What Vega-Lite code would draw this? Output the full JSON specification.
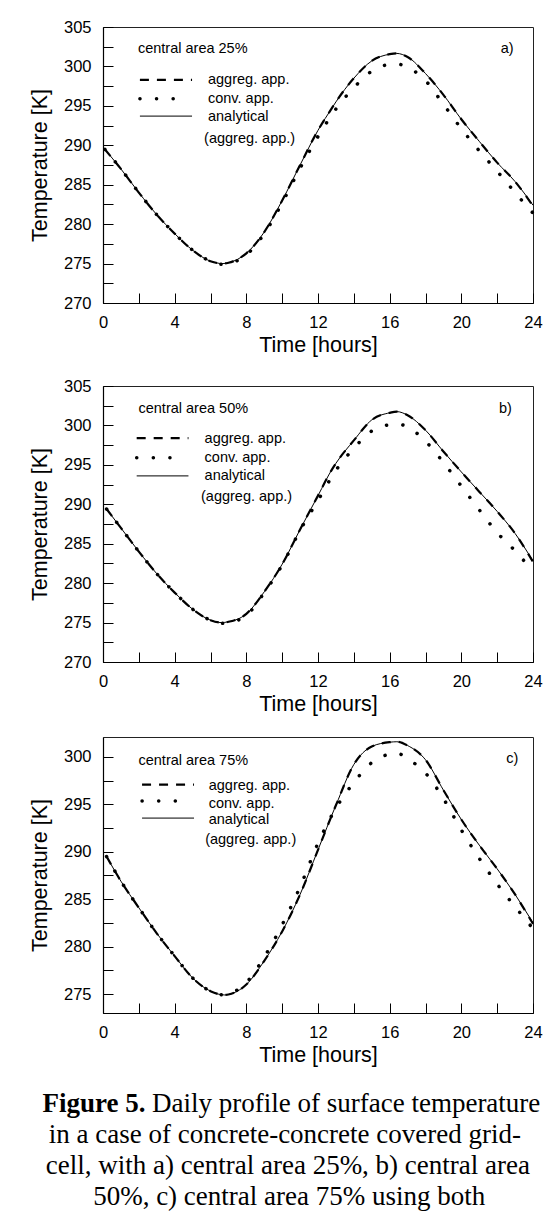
{
  "$schema": "https://vega.github.io/schema/vega-lite/v6.json",
  "padding": {"left": 28, "top": 18, "right": 5, "bottom": 5},
  "spacing": 20,
  "background": "white",
  "config": {
    "font": "Liberation Sans",
    "view": {"stroke": "#222", "strokeWidth": 1},
    "axis": {"grid": false, "domainColor": "black", "domainWidth": 1.2, "tickColor": "black", "tickWidth": 1, "tickSize": -10, "labelColor": "black", "titleColor": "black", "labelFontSize": 16.5, "titleFontSize": 21.5, "titleFontWeight": "normal", "labelFont": "Liberation Sans", "titleFont": "Liberation Sans", "labelFlush": false, "labelOverlap": false},
    "axisX": {"labelPadding": 21, "titlePadding": 4},
    "axisY": {"labelPadding": 22, "titlePadding": 12},
    "text": {"font": "Liberation Sans", "fontSize": 14.5, "align": "left", "baseline": "alphabetic", "color": "black"}
  },
  "datasets": {
    "cur": [
      {"p":"a","s":"an","g":"c","t":0.1,"v":289.5},{"p":"a","s":"an","g":"c","t":1,"v":287.0},{"p":"a","s":"an","g":"c","t":2,"v":284.0},{"p":"a","s":"an","g":"c","t":3,"v":281.2},{"p":"a","s":"an","g":"c","t":4,"v":278.8},{"p":"a","s":"an","g":"c","t":5,"v":276.7},{"p":"a","s":"an","g":"c","t":6,"v":275.3},{"p":"a","s":"an","g":"c","t":6.7,"v":275.0},{"p":"a","s":"an","g":"c","t":7,"v":275.1},{"p":"a","s":"an","g":"c","t":8,"v":276.3},{"p":"a","s":"an","g":"c","t":9,"v":279.0},{"p":"a","s":"an","g":"c","t":10,"v":283.0},{"p":"a","s":"an","g":"c","t":11,"v":287.5},{"p":"a","s":"an","g":"c","t":12,"v":291.9},{"p":"a","s":"an","g":"c","t":12.8,"v":294.8},{"p":"a","s":"an","g":"c","t":13,"v":295.5},{"p":"a","s":"an","g":"c","t":14,"v":298.5},{"p":"a","s":"an","g":"c","t":15,"v":300.7},{"p":"a","s":"an","g":"c","t":16,"v":301.55},{"p":"a","s":"an","g":"c","t":16.4,"v":301.65},{"p":"a","s":"an","g":"c","t":17,"v":301.2},{"p":"a","s":"an","g":"c","t":18,"v":299.1},{"p":"a","s":"an","g":"c","t":19,"v":296.4},{"p":"a","s":"an","g":"c","t":20,"v":293.3},{"p":"a","s":"an","g":"c","t":21,"v":290.5},{"p":"a","s":"an","g":"c","t":22,"v":287.8},{"p":"a","s":"an","g":"c","t":23,"v":285.4},{"p":"a","s":"an","g":"c","t":24,"v":282.4},
      {"p":"a","s":"ag","g":"c","t":0.1,"v":289.5},{"p":"a","s":"ag","g":"c","t":1,"v":287.0},{"p":"a","s":"ag","g":"c","t":2,"v":284.0},{"p":"a","s":"ag","g":"c","t":3,"v":281.2},{"p":"a","s":"ag","g":"c","t":4,"v":278.8},{"p":"a","s":"ag","g":"c","t":5,"v":276.7},{"p":"a","s":"ag","g":"c","t":6,"v":275.3},{"p":"a","s":"ag","g":"c","t":6.7,"v":275.0},{"p":"a","s":"ag","g":"c","t":7,"v":275.1},{"p":"a","s":"ag","g":"c","t":8,"v":276.3},{"p":"a","s":"ag","g":"c","t":9,"v":279.0},{"p":"a","s":"ag","g":"c","t":10,"v":283.0},{"p":"a","s":"ag","g":"c","t":11,"v":287.5},{"p":"a","s":"ag","g":"c","t":12,"v":291.9},{"p":"a","s":"ag","g":"c","t":12.8,"v":294.8},{"p":"a","s":"ag","g":"c","t":13,"v":295.5},{"p":"a","s":"ag","g":"c","t":14,"v":298.5},{"p":"a","s":"ag","g":"c","t":15,"v":300.7},{"p":"a","s":"ag","g":"c","t":16,"v":301.55},{"p":"a","s":"ag","g":"c","t":16.4,"v":301.65},{"p":"a","s":"ag","g":"c","t":17,"v":301.2},{"p":"a","s":"ag","g":"c","t":18,"v":299.1},{"p":"a","s":"ag","g":"c","t":19,"v":296.4},{"p":"a","s":"ag","g":"c","t":20,"v":293.3},{"p":"a","s":"ag","g":"c","t":21,"v":290.5},{"p":"a","s":"ag","g":"c","t":22,"v":287.8},{"p":"a","s":"ag","g":"c","t":23,"v":285.4},{"p":"a","s":"ag","g":"c","t":24,"v":282.3},
      {"p":"a","s":"cv","g":"c","t":0.1,"v":289.5},{"p":"a","s":"cv","g":"c","t":1,"v":287.0},{"p":"a","s":"cv","g":"c","t":2,"v":284.0},{"p":"a","s":"cv","g":"c","t":3,"v":281.2},{"p":"a","s":"cv","g":"c","t":4,"v":278.8},{"p":"a","s":"cv","g":"c","t":5,"v":276.7},{"p":"a","s":"cv","g":"c","t":6,"v":275.3},{"p":"a","s":"cv","g":"c","t":6.7,"v":274.9},{"p":"a","s":"cv","g":"c","t":7,"v":275.0},{"p":"a","s":"cv","g":"c","t":8,"v":276.1},{"p":"a","s":"cv","g":"c","t":9,"v":278.8},{"p":"a","s":"cv","g":"c","t":10,"v":282.7},{"p":"a","s":"cv","g":"c","t":11,"v":287.1},{"p":"a","s":"cv","g":"c","t":12,"v":291.1},{"p":"a","s":"cv","g":"c","t":13,"v":294.6},{"p":"a","s":"cv","g":"c","t":14,"v":297.3},{"p":"a","s":"cv","g":"c","t":15,"v":299.4},{"p":"a","s":"cv","g":"c","t":16,"v":300.25},{"p":"a","s":"cv","g":"c","t":16.4,"v":300.3},{"p":"a","s":"cv","g":"c","t":17,"v":299.9},{"p":"a","s":"cv","g":"c","t":18,"v":298.2},{"p":"a","s":"cv","g":"c","t":19,"v":295.2},{"p":"a","s":"cv","g":"c","t":20,"v":292.1},{"p":"a","s":"cv","g":"c","t":21,"v":289.3},{"p":"a","s":"cv","g":"c","t":22,"v":286.7},{"p":"a","s":"cv","g":"c","t":23,"v":284.0},{"p":"a","s":"cv","g":"c","t":24,"v":281.4},
      {"p":"a","s":"ag","g":"leg","t":2.06,"v":298.3},{"p":"a","s":"ag","g":"leg","t":4.97,"v":298.3},
      {"p":"a","s":"cv","g":"leg","t":2.06,"v":295.9},{"p":"a","s":"cv","g":"leg","t":4.1,"v":295.9},
      {"p":"a","s":"an","g":"leg","t":2.06,"v":293.7},{"p":"a","s":"an","g":"leg","t":4.97,"v":293.7},

      {"p":"b","s":"an","g":"c","t":0.2,"v":289.4},{"p":"b","s":"an","g":"c","t":1,"v":287.0},{"p":"b","s":"an","g":"c","t":2,"v":284.0},{"p":"b","s":"an","g":"c","t":3,"v":281.2},{"p":"b","s":"an","g":"c","t":4,"v":278.8},{"p":"b","s":"an","g":"c","t":5,"v":276.7},{"p":"b","s":"an","g":"c","t":6,"v":275.3},{"p":"b","s":"an","g":"c","t":6.6,"v":275.0},{"p":"b","s":"an","g":"c","t":7,"v":275.1},{"p":"b","s":"an","g":"c","t":8,"v":276.1},{"p":"b","s":"an","g":"c","t":9,"v":278.9},{"p":"b","s":"an","g":"c","t":10,"v":282.4},{"p":"b","s":"an","g":"c","t":11,"v":286.8},{"p":"b","s":"an","g":"c","t":12,"v":291.1},{"p":"b","s":"an","g":"c","t":12.8,"v":294.5},{"p":"b","s":"an","g":"c","t":13,"v":295.2},{"p":"b","s":"an","g":"c","t":14,"v":298.1},{"p":"b","s":"an","g":"c","t":15,"v":300.7},{"p":"b","s":"an","g":"c","t":16,"v":301.6},{"p":"b","s":"an","g":"c","t":16.4,"v":301.75},{"p":"b","s":"an","g":"c","t":17,"v":301.3},{"p":"b","s":"an","g":"c","t":18,"v":299.4},{"p":"b","s":"an","g":"c","t":19,"v":296.7},{"p":"b","s":"an","g":"c","t":20,"v":294.1},{"p":"b","s":"an","g":"c","t":21,"v":291.6},{"p":"b","s":"an","g":"c","t":22,"v":289.1},{"p":"b","s":"an","g":"c","t":23,"v":286.3},{"p":"b","s":"an","g":"c","t":24,"v":282.8},
      {"p":"b","s":"ag","g":"c","t":0.2,"v":289.4},{"p":"b","s":"ag","g":"c","t":1,"v":287.0},{"p":"b","s":"ag","g":"c","t":2,"v":284.0},{"p":"b","s":"ag","g":"c","t":3,"v":281.2},{"p":"b","s":"ag","g":"c","t":4,"v":278.8},{"p":"b","s":"ag","g":"c","t":5,"v":276.7},{"p":"b","s":"ag","g":"c","t":6,"v":275.3},{"p":"b","s":"ag","g":"c","t":6.6,"v":275.0},{"p":"b","s":"ag","g":"c","t":7,"v":275.1},{"p":"b","s":"ag","g":"c","t":8,"v":276.1},{"p":"b","s":"ag","g":"c","t":9,"v":278.9},{"p":"b","s":"ag","g":"c","t":10,"v":282.4},{"p":"b","s":"ag","g":"c","t":11,"v":286.8},{"p":"b","s":"ag","g":"c","t":12,"v":291.1},{"p":"b","s":"ag","g":"c","t":12.8,"v":294.5},{"p":"b","s":"ag","g":"c","t":13,"v":295.2},{"p":"b","s":"ag","g":"c","t":14,"v":298.1},{"p":"b","s":"ag","g":"c","t":15,"v":300.7},{"p":"b","s":"ag","g":"c","t":16,"v":301.6},{"p":"b","s":"ag","g":"c","t":16.4,"v":301.75},{"p":"b","s":"ag","g":"c","t":17,"v":301.3},{"p":"b","s":"ag","g":"c","t":18,"v":299.4},{"p":"b","s":"ag","g":"c","t":19,"v":296.7},{"p":"b","s":"ag","g":"c","t":20,"v":294.1},{"p":"b","s":"ag","g":"c","t":21,"v":291.6},{"p":"b","s":"ag","g":"c","t":22,"v":289.1},{"p":"b","s":"ag","g":"c","t":23,"v":286.3},{"p":"b","s":"ag","g":"c","t":24,"v":282.7},
      {"p":"b","s":"cv","g":"c","t":0.2,"v":289.4},{"p":"b","s":"cv","g":"c","t":1,"v":287.0},{"p":"b","s":"cv","g":"c","t":2,"v":284.0},{"p":"b","s":"cv","g":"c","t":3,"v":281.2},{"p":"b","s":"cv","g":"c","t":4,"v":278.8},{"p":"b","s":"cv","g":"c","t":5,"v":276.7},{"p":"b","s":"cv","g":"c","t":6,"v":275.3},{"p":"b","s":"cv","g":"c","t":6.6,"v":274.9},{"p":"b","s":"cv","g":"c","t":7,"v":275.0},{"p":"b","s":"cv","g":"c","t":8,"v":275.9},{"p":"b","s":"cv","g":"c","t":9,"v":278.8},{"p":"b","s":"cv","g":"c","t":10,"v":282.3},{"p":"b","s":"cv","g":"c","t":11,"v":286.7},{"p":"b","s":"cv","g":"c","t":12,"v":290.5},{"p":"b","s":"cv","g":"c","t":13,"v":294.3},{"p":"b","s":"cv","g":"c","t":14,"v":297.1},{"p":"b","s":"cv","g":"c","t":15,"v":299.3},{"p":"b","s":"cv","g":"c","t":16,"v":300.1},{"p":"b","s":"cv","g":"c","t":16.4,"v":300.2},{"p":"b","s":"cv","g":"c","t":17,"v":299.8},{"p":"b","s":"cv","g":"c","t":18,"v":298.0},{"p":"b","s":"cv","g":"c","t":19,"v":295.3},{"p":"b","s":"cv","g":"c","t":20,"v":292.3},{"p":"b","s":"cv","g":"c","t":21,"v":289.3},{"p":"b","s":"cv","g":"c","t":22,"v":286.4},{"p":"b","s":"cv","g":"c","t":23,"v":284.1},{"p":"b","s":"cv","g":"c","t":24,"v":281.5},
      {"p":"b","s":"ag","g":"leg","t":1.88,"v":298.4},{"p":"b","s":"ag","g":"leg","t":4.77,"v":298.4},
      {"p":"b","s":"cv","g":"leg","t":1.88,"v":295.9},{"p":"b","s":"cv","g":"leg","t":3.95,"v":295.9},
      {"p":"b","s":"an","g":"leg","t":1.88,"v":293.6},{"p":"b","s":"an","g":"leg","t":4.77,"v":293.6},

      {"p":"c","s":"an","g":"c","t":0.2,"v":289.5},{"p":"c","s":"an","g":"c","t":1,"v":286.9},{"p":"c","s":"an","g":"c","t":2,"v":284.1},{"p":"c","s":"an","g":"c","t":3,"v":281.4},{"p":"c","s":"an","g":"c","t":4,"v":279.0},{"p":"c","s":"an","g":"c","t":5,"v":276.7},{"p":"c","s":"an","g":"c","t":6,"v":275.3},{"p":"c","s":"an","g":"c","t":6.8,"v":274.9},{"p":"c","s":"an","g":"c","t":7,"v":274.95},{"p":"c","s":"an","g":"c","t":8,"v":276.0},{"p":"c","s":"an","g":"c","t":9,"v":278.5},{"p":"c","s":"an","g":"c","t":10,"v":281.6},{"p":"c","s":"an","g":"c","t":11,"v":285.5},{"p":"c","s":"an","g":"c","t":12,"v":290.2},{"p":"c","s":"an","g":"c","t":13,"v":294.9},{"p":"c","s":"an","g":"c","t":14,"v":299.2},{"p":"c","s":"an","g":"c","t":15,"v":301.1},{"p":"c","s":"an","g":"c","t":16,"v":301.55},{"p":"c","s":"an","g":"c","t":16.4,"v":301.6},{"p":"c","s":"an","g":"c","t":17,"v":301.2},{"p":"c","s":"an","g":"c","t":18,"v":299.7},{"p":"c","s":"an","g":"c","t":19,"v":296.5},{"p":"c","s":"an","g":"c","t":20,"v":293.4},{"p":"c","s":"an","g":"c","t":21,"v":290.7},{"p":"c","s":"an","g":"c","t":22,"v":288.2},{"p":"c","s":"an","g":"c","t":23,"v":285.5},{"p":"c","s":"an","g":"c","t":24,"v":282.5},
      {"p":"c","s":"ag","g":"c","t":0.2,"v":289.5},{"p":"c","s":"ag","g":"c","t":1,"v":286.9},{"p":"c","s":"ag","g":"c","t":2,"v":284.1},{"p":"c","s":"ag","g":"c","t":3,"v":281.4},{"p":"c","s":"ag","g":"c","t":4,"v":279.0},{"p":"c","s":"ag","g":"c","t":5,"v":276.7},{"p":"c","s":"ag","g":"c","t":6,"v":275.3},{"p":"c","s":"ag","g":"c","t":6.8,"v":274.9},{"p":"c","s":"ag","g":"c","t":7,"v":274.95},{"p":"c","s":"ag","g":"c","t":8,"v":276.0},{"p":"c","s":"ag","g":"c","t":9,"v":278.5},{"p":"c","s":"ag","g":"c","t":10,"v":281.6},{"p":"c","s":"ag","g":"c","t":11,"v":285.5},{"p":"c","s":"ag","g":"c","t":12,"v":290.2},{"p":"c","s":"ag","g":"c","t":13,"v":294.9},{"p":"c","s":"ag","g":"c","t":14,"v":299.2},{"p":"c","s":"ag","g":"c","t":15,"v":301.1},{"p":"c","s":"ag","g":"c","t":16,"v":301.55},{"p":"c","s":"ag","g":"c","t":16.4,"v":301.6},{"p":"c","s":"ag","g":"c","t":17,"v":301.2},{"p":"c","s":"ag","g":"c","t":18,"v":299.7},{"p":"c","s":"ag","g":"c","t":19,"v":296.5},{"p":"c","s":"ag","g":"c","t":20,"v":293.4},{"p":"c","s":"ag","g":"c","t":21,"v":290.7},{"p":"c","s":"ag","g":"c","t":22,"v":288.2},{"p":"c","s":"ag","g":"c","t":23,"v":285.5},{"p":"c","s":"ag","g":"c","t":24,"v":282.4},
      {"p":"c","s":"cv","g":"c","t":0.2,"v":289.5},{"p":"c","s":"cv","g":"c","t":1,"v":286.9},{"p":"c","s":"cv","g":"c","t":2,"v":284.1},{"p":"c","s":"cv","g":"c","t":3,"v":281.4},{"p":"c","s":"cv","g":"c","t":4,"v":279.0},{"p":"c","s":"cv","g":"c","t":5,"v":276.7},{"p":"c","s":"cv","g":"c","t":6,"v":275.3},{"p":"c","s":"cv","g":"c","t":6.8,"v":274.9},{"p":"c","s":"cv","g":"c","t":7,"v":275.0},{"p":"c","s":"cv","g":"c","t":8,"v":276.2},{"p":"c","s":"cv","g":"c","t":9,"v":278.9},{"p":"c","s":"cv","g":"c","t":10,"v":282.3},{"p":"c","s":"cv","g":"c","t":11,"v":286.3},{"p":"c","s":"cv","g":"c","t":12,"v":290.9},{"p":"c","s":"cv","g":"c","t":13,"v":294.6},{"p":"c","s":"cv","g":"c","t":14,"v":297.3},{"p":"c","s":"cv","g":"c","t":15,"v":299.4},{"p":"c","s":"cv","g":"c","t":16,"v":300.3},{"p":"c","s":"cv","g":"c","t":16.4,"v":300.4},{"p":"c","s":"cv","g":"c","t":17,"v":299.8},{"p":"c","s":"cv","g":"c","t":18,"v":298.3},{"p":"c","s":"cv","g":"c","t":19,"v":295.6},{"p":"c","s":"cv","g":"c","t":20,"v":292.3},{"p":"c","s":"cv","g":"c","t":21,"v":289.3},{"p":"c","s":"cv","g":"c","t":22,"v":286.6},{"p":"c","s":"cv","g":"c","t":23,"v":284.2},{"p":"c","s":"cv","g":"c","t":24,"v":281.9},
      {"p":"c","s":"ag","g":"leg","t":2.18,"v":297.07},{"p":"c","s":"ag","g":"leg","t":5.08,"v":297.07},
      {"p":"c","s":"cv","g":"leg","t":2.18,"v":295.35},{"p":"c","s":"cv","g":"leg","t":4.2,"v":295.35},
      {"p":"c","s":"an","g":"leg","t":2.18,"v":293.55},{"p":"c","s":"an","g":"leg","t":5.08,"v":293.55}
    ],
    "txt": [
      {"p":"a","t":1.95,"v":301.7,"text":"central area 25%"},
      {"p":"a","t":5.86,"v":297.8,"text":"aggreg. app."},
      {"p":"a","t":5.86,"v":295.4,"text":"conv. app."},
      {"p":"a","t":5.86,"v":293.1,"text":"analytical"},
      {"p":"a","t":5.64,"v":290.3,"text":"(aggreg. app.)"},
      {"p":"a","t":22.2,"v":301.7,"text":"a)"},
      {"p":"b","t":1.98,"v":301.6,"text":"central area 50%"},
      {"p":"b","t":5.67,"v":297.8,"text":"aggreg. app."},
      {"p":"b","t":5.67,"v":295.4,"text":"conv. app."},
      {"p":"b","t":5.67,"v":293.1,"text":"analytical"},
      {"p":"b","t":5.47,"v":290.4,"text":"(aggreg. app.)"},
      {"p":"b","t":22.1,"v":301.6,"text":"b)"},
      {"p":"c","t":1.98,"v":299.2,"text":"central area 75%"},
      {"p":"c","t":5.9,"v":296.5,"text":"aggreg. app."},
      {"p":"c","t":5.9,"v":294.6,"text":"conv. app."},
      {"p":"c","t":5.9,"v":292.95,"text":"analytical"},
      {"p":"c","t":5.7,"v":290.85,"text":"(aggreg. app.)"},
      {"p":"c","t":22.5,"v":299.35,"text":"c)"}
    ],
    "cap": [
      {"w":"b","x":0.099,"y":0.82,"text":"Figure 5."},
      {"w":"l","x":0.114,"y":0.82,"text":"Daily profile of surface temperature"},
      {"w":"c","x":0.423,"y":1.82,"text":"in a case of concrete-concrete covered grid-"},
      {"w":"c","x":0.43,"y":2.82,"text":"cell, with a) central area 25%, b) central area"},
      {"w":"c","x":0.433,"y":3.82,"text":"50%, c) central area 75% using both"}
    ]
  },
  "vconcat": [
    {
      "width": 430, "height": 276,
      "encoding": {
        "x": {"field": "t", "type": "quantitative", "scale": {"domain": [0, 24], "nice": false}, "axis": {"title": "Time [hours]", "labelOverlap": false, "values": [0,2,4,6,8,10,12,14,16,18,20,22,24], "labelExpr": "datum.value % 4 === 0 ? datum.label : ''"}},
        "y": {"field": "v", "type": "quantitative", "scale": {"domain": [270, 305], "nice": false, "zero": false}, "axis": {"title": "Temperature [K]", "labelOverlap": false, "values": [270,272.5,275,277.5,280,282.5,285,287.5,290,292.5,295,297.5,300,302.5,305], "labelExpr": "datum.value % 5 === 0 ? format(datum.value, 'd') : ''"}}
      },
      "layer": [
        {"data": {"name": "cur"}, "transform": [{"filter": "datum.p === 'a' && datum.s === 'an'"}],
         "mark": {"type": "line", "color": "black", "strokeWidth": 1, "interpolate": "monotone"},
         "encoding": {"detail": {"field": "g"}}},
        {"data": {"name": "cur"}, "transform": [{"filter": "datum.p === 'a' && datum.s === 'ag'"}],
         "mark": {"type": "line", "color": "black", "strokeWidth": 2.2, "strokeDash": [9, 8], "interpolate": "monotone"},
         "encoding": {"detail": {"field": "g"}}},
        {"data": {"name": "cur"}, "transform": [{"filter": "datum.p === 'a' && datum.s === 'cv'"}],
         "mark": {"type": "line", "color": "black", "strokeWidth": 3.5, "strokeDash": [0.1, 16.5], "strokeCap": "round", "interpolate": "monotone"},
         "encoding": {"detail": {"field": "g"}}},
        {"data": {"name": "txt"}, "transform": [{"filter": "datum.p === 'a'"}],
         "mark": {"type": "text"},
         "encoding": {"text": {"field": "text"}}}
      ]
    },
    {
      "width": 430, "height": 276,
      "encoding": {
        "x": {"field": "t", "type": "quantitative", "scale": {"domain": [0, 24], "nice": false}, "axis": {"title": "Time [hours]", "labelOverlap": false, "values": [0,2,4,6,8,10,12,14,16,18,20,22,24], "labelExpr": "datum.value % 4 === 0 ? datum.label : ''"}},
        "y": {"field": "v", "type": "quantitative", "scale": {"domain": [270, 305], "nice": false, "zero": false}, "axis": {"title": "Temperature [K]", "labelOverlap": false, "values": [270,272.5,275,277.5,280,282.5,285,287.5,290,292.5,295,297.5,300,302.5,305], "labelExpr": "datum.value % 5 === 0 ? format(datum.value, 'd') : ''"}}
      },
      "layer": [
        {"data": {"name": "cur"}, "transform": [{"filter": "datum.p === 'b' && datum.s === 'an'"}],
         "mark": {"type": "line", "color": "black", "strokeWidth": 1, "interpolate": "monotone"},
         "encoding": {"detail": {"field": "g"}}},
        {"data": {"name": "cur"}, "transform": [{"filter": "datum.p === 'b' && datum.s === 'ag'"}],
         "mark": {"type": "line", "color": "black", "strokeWidth": 2.2, "strokeDash": [9, 8], "interpolate": "monotone"},
         "encoding": {"detail": {"field": "g"}}},
        {"data": {"name": "cur"}, "transform": [{"filter": "datum.p === 'b' && datum.s === 'cv'"}],
         "mark": {"type": "line", "color": "black", "strokeWidth": 3.5, "strokeDash": [0.1, 16.5], "strokeCap": "round", "interpolate": "monotone"},
         "encoding": {"detail": {"field": "g"}}},
        {"data": {"name": "txt"}, "transform": [{"filter": "datum.p === 'b'"}],
         "mark": {"type": "text"},
         "encoding": {"text": {"field": "text"}}}
      ]
    },
    {
      "width": 430, "height": 276,
      "encoding": {
        "x": {"field": "t", "type": "quantitative", "scale": {"domain": [0, 24], "nice": false}, "axis": {"title": "Time [hours]", "labelOverlap": false, "values": [0,2,4,6,8,10,12,14,16,18,20,22,24], "labelExpr": "datum.value % 4 === 0 ? datum.label : ''"}},
        "y": {"field": "v", "type": "quantitative", "scale": {"domain": [273, 302.1], "nice": false, "zero": false}, "axis": {"title": "Temperature [K]", "labelOverlap": false, "values": [275,277.5,280,282.5,285,287.5,290,292.5,295,297.5,300], "labelExpr": "datum.value % 5 === 0 ? format(datum.value, 'd') : ''"}}
      },
      "layer": [
        {"data": {"name": "cur"}, "transform": [{"filter": "datum.p === 'c' && datum.s === 'an'"}],
         "mark": {"type": "line", "color": "black", "strokeWidth": 1, "interpolate": "monotone"},
         "encoding": {"detail": {"field": "g"}}},
        {"data": {"name": "cur"}, "transform": [{"filter": "datum.p === 'c' && datum.s === 'ag'"}],
         "mark": {"type": "line", "color": "black", "strokeWidth": 2.2, "strokeDash": [9, 8], "interpolate": "monotone"},
         "encoding": {"detail": {"field": "g"}}},
        {"data": {"name": "cur"}, "transform": [{"filter": "datum.p === 'c' && datum.s === 'cv'"}],
         "mark": {"type": "line", "color": "black", "strokeWidth": 3.5, "strokeDash": [0.1, 16.5], "strokeCap": "round", "interpolate": "monotone"},
         "encoding": {"detail": {"field": "g"}}},
        {"data": {"name": "txt"}, "transform": [{"filter": "datum.p === 'c'"}],
         "mark": {"type": "text"},
         "encoding": {"text": {"field": "text"}}}
      ]
    },
    {
      "width": 430, "height": 124,
      "view": {"stroke": null},
      "data": {"name": "cap"},
      "encoding": {
        "x": {"field": "x", "type": "quantitative", "scale": {"domain": [0, 1], "nice": false}, "axis": null},
        "y": {"field": "y", "type": "quantitative", "scale": {"domain": [0, 4], "nice": false, "reverse": true}, "axis": null},
        "text": {"field": "text"}
      },
      "layer": [
        {"transform": [{"filter": "datum.w === 'b'"}], "mark": {"type": "text", "font": "Liberation Serif", "fontSize": 27, "fontWeight": "bold", "align": "right"}},
        {"transform": [{"filter": "datum.w === 'l'"}], "mark": {"type": "text", "font": "Liberation Serif", "fontSize": 27, "align": "left"}},
        {"transform": [{"filter": "datum.w === 'c'"}], "mark": {"type": "text", "font": "Liberation Serif", "fontSize": 27, "align": "center"}}
      ]
    }
  ]
}
